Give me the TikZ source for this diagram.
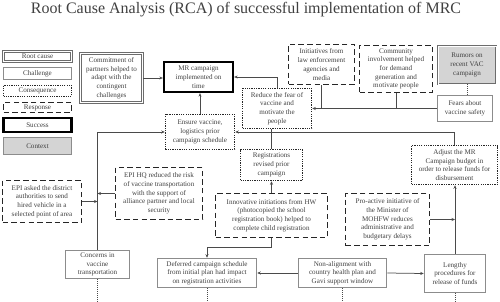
\documentclass[tikz,border=0pt]{standalone}
\usepackage{fontspec}
\setmainfont{Liberation Serif}
\usetikzlibrary{arrows.meta,calc}
\definecolor{txt}{HTML}{404040}
\definecolor{ln}{HTML}{4A4A4A}
\definecolor{ctxfill}{HTML}{D4D4D4}
\tikzset{
  box/.style={align=center,inner sep=0pt,text=txt,font=\fontsize{7.1}{8.7}\selectfont},
  rootcause/.style={box,draw=gray!85!black,double=white,double distance=0.9pt,line width=0.8pt},
  challenge/.style={box,draw=gray!90,line width=1.5pt},
  consequence/.style={box,draw=black!85,line width=1.5pt,dash pattern=on 1.2pt off 1.1pt},
  response/.style={box,draw=black!85,line width=1.6pt,dash pattern=on 5.5pt off 3.2pt},
  success/.style={box,draw=black,line width=2.3pt},
  context/.style={box,draw=gray!90,line width=1.3pt,fill=ctxfill},
  rumorbox/.style={rootcause,fill=ctxfill},
  conn/.style={draw=ln,line width=0.75pt},
  arr/.style={conn,-{Stealth[length=3.5pt,width=3pt]}},
  dotconn/.style={draw=ln,line width=0.75pt,dash pattern=on 1pt off 1pt},
}
\begin{document}
\begin{tikzpicture}[x=1pt,y=-1pt]
\useasboundingbox (0,0) rectangle (500,302);
\node[text=txt,font=\fontsize{16}{18}\selectfont] (title) at (246,9.5) {Root Cause Analysis (RCA) of successful implementation of MRC};

% legend
\node[rootcause,minimum width=68pt,minimum height=10pt] (legRoot) at (37.5,56.5) {Root cause};
\node[challenge,minimum width=68pt,minimum height=12pt] (legChal) at (37.5,73.5) {Challenge};
\node[consequence,minimum width=68pt,minimum height=11pt] (legCons) at (37.5,91) {Consequence};
\node[response,minimum width=68pt,minimum height=10pt] (legResp) at (37.5,107.5) {Response};
\node[success,minimum width=68pt,minimum height=14pt] (legSucc) at (37.5,125) {Success};
\node[context,minimum width=68pt,minimum height=17pt] (legCtx) at (37.5,146) {Context};

% nodes
\node[rootcause,minimum width=62pt,minimum height=49pt] (commit) at (111.5,78) {Commitment of\\partners helped to\\adapt with the\\contingent\\challenges};
\node[success,minimum width=69pt,minimum height=30pt] (mr) at (198.5,77) {MR campaign\\implemented on\\time};
\node[consequence,minimum width=69pt,minimum height=40pt] (reduce) at (277,108.5) {Reduce the fear of\\vaccine and\\motivate the\\people};
\node[consequence,minimum width=69pt,minimum height=35pt] (ensure) at (200,132) {Ensure vaccine,\\logistics prior\\campaign schedule};
\node[consequence,minimum width=62pt,minimum height=31pt] (regis) at (271.5,165) {Registrations\\revised prior\\campaign};
\node[response,minimum width=66pt,minimum height=40pt] (law) at (321.5,64.5) {Initiatives from\\law enforcement\\agencies and\\media};
\node[response,minimum width=73pt,minimum height=47pt] (community) at (396,69) {Community\\involvement helped\\for demand\\generation and\\motivate people};
\node[rumorbox,minimum width=58pt,minimum height=38pt] (rumors) at (467,65) {Rumors on\\recent VAC\\campaign};
\node[challenge,minimum width=55pt,minimum height=26pt] (fears) at (465,108.5) {Fears about\\vaccine safety};
\node[response,minimum width=79pt,minimum height=42pt] (epiasked) at (42,201.5) {EPI asked the district\\authorities to send\\hired vehicle in a\\selected point of area};
\node[response,minimum width=87pt,minimum height=52pt] (epihq) at (159,193.5) {EPI HQ reduced the risk\\of vaccine transportation\\with the support of\\alliance partner and local\\security};
\node[response,minimum width=112pt,minimum height=44pt] (innov) at (271.5,215.5) {Innovative initiations from HW\\(photocopied the school\\registration book) helped to\\complete child registration};
\node[response,minimum width=84pt,minimum height=52pt] (proactive) at (387.5,219.5) {Pro-active initiative of\\the Minister of\\MOHFW reduces\\administrative and\\budgetary delays};
\node[consequence,minimum width=86pt,minimum height=39pt] (adjust) at (454.5,165) {Adjust the MR\\Campaign budget in\\order to release funds for\\disbursement};
\node[challenge,minimum width=64pt,minimum height=28pt] (concerns) at (97.5,264.5) {Concerns in\\vaccine\\transportation};
\node[challenge,minimum width=99pt,minimum height=29pt] (deferred) at (207,273) {Deferred campaign schedule\\from initial plan had impact\\on registration activities};
\node[challenge,minimum width=88pt,minimum height=29pt] (nonalign) at (342.5,273) {Non-alignment with\\country health plan and\\Gavi support window};
\node[challenge,minimum width=61pt,minimum height=38pt] (lengthy) at (455,273.5) {Lengthy\\procedures for\\release of funds};

% connectors
\draw[arr] (commit.east) -- (commit.east -| mr.west);
\draw[arr] (reduce.north) |- (mr.east);
\draw[arr] (ensure.north) -- (ensure.north |- mr.south);
\draw[arr] (fears.west) -- (reduce.east);
\draw[conn] (law.south) -- (law.south |- fears.west);
\draw[conn] (community.south) -- (community.south |- fears.west);
\draw[dotconn] (rumors.south) -- (rumors.south |- fears.north);
\draw[arr] (adjust.north) |- (ensure.east);
\draw[conn] (regis.north) -- (regis.north |- reduce.south);
\draw[arr] (innov.north) -- (regis.south);
\draw[arr] (concerns.north) |- (ensure.west);
\coordinate (vj1) at (epiasked.east -| concerns.north);
\coordinate (vj2) at (epihq.west -| concerns.north);
\draw[arr] (epiasked.east) -- (vj1);
\draw[arr] (epihq.west) -- (vj2);
\draw[arr] (innov.south) -- ++(0,9) -| (deferred.north);
\draw[arr] (nonalign.west) -- (deferred.east);
\draw[arr] (nonalign.east) -- (lengthy.west);
\draw[arr] (lengthy.north) -- (lengthy.north |- adjust.south);
\coordinate (pj) at (proactive.east -| lengthy.north);
\draw[arr] (proactive.east) -- (pj);

% cut-off dotted lines at the bottom
\coordinate (b1) at (concerns.south |- 0,302);
\coordinate (b2) at (deferred.south |- 0,302);
\coordinate (b3) at (nonalign.south |- 0,302);
\coordinate (b4) at (lengthy.south |- 0,302);
\draw[dotconn] (concerns.south) -- (b1);
\draw[dotconn] (deferred.south) -- (b2);
\draw[dotconn] (nonalign.south) -- (b3);
\draw[dotconn] (lengthy.south) -- (b4);
\end{tikzpicture}
\end{document}
